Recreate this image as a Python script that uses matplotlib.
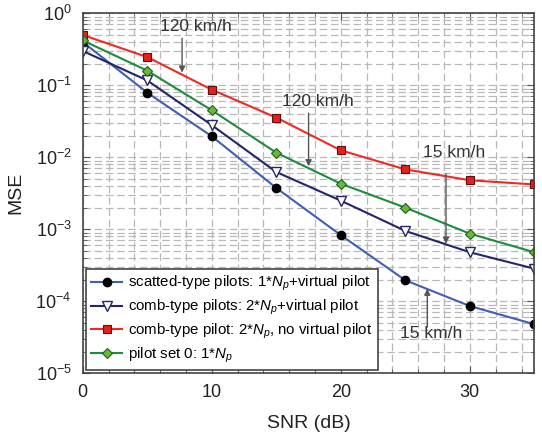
import numpy as np
import matplotlib
matplotlib.use("Agg")
import matplotlib.pyplot as plt
from matplotlib.ticker import LogLocator, MultipleLocator, NullFormatter

plt.rcParams['font.family'] = ['Liberation Sans', 'DejaVu Sans']
plt.rcParams['mathtext.fontset'] = 'custom'
plt.rcParams['mathtext.rm'] = 'Liberation Sans'
plt.rcParams['mathtext.it'] = 'Liberation Sans:italic'

snr = [0, 5, 10, 15, 20, 25, 30, 35]

mse_scatted = [0.40, 0.079, 0.0196, 0.00375, 0.00083, 0.000196, 8.6e-5, 4.8e-5]
mse_comb_vp = [0.30, 0.117, 0.028, 0.00625, 0.0025, 0.00095, 0.00048, 0.000284]
mse_comb_novp = [0.50, 0.247, 0.087, 0.0356, 0.0125, 0.0068, 0.0048, 0.0042]
mse_set0 = [0.42, 0.16, 0.045, 0.0116, 0.0043, 0.0020, 0.00087, 0.00048]

labels = [r'scatted-type pilots: 1*$N_p$+virtual pilot',
          r'comb-type pilots: 2*$N_p$+virtual pilot',
          r'comb-type pilot: 2*$N_p$, no virtual pilot',
          r'pilot set 0: 1*$N_p$']

# (text x, text y, arrow x, arrow start y, arrow end y)
notes = [
    ('120 km/h', 8.8, 0.66, 7.7, 0.45, 0.15),
    ('120 km/h', 18.2, 0.059, 17.5, 0.041, 0.0075),
    ('15 km/h', 28.75, 0.0116, 28.15, 0.0059, 0.00063),
    ('15 km/h', 27.0, 3.6e-5, 26.7, 4.4e-5, 1.5e-4),
]

fig = plt.figure(figsize=(5.42, 4.37), dpi=100)
ax = fig.add_axes([0.1526, 0.1457, 0.8334, 0.8238])

ax.plot(snr, mse_scatted, '-o', color='#3d5fb4', lw=1.5, ms=6,
        mfc='black', mec='black', label=labels[0])
ax.plot(snr, mse_comb_vp, '-v', color='#25256e', lw=1.5, ms=6.5,
        mfc='white', mec='#25256e', label=labels[1])
ax.plot(snr, mse_comb_novp, '-s', color='#ee2a24', lw=1.5, ms=5.5,
        mfc='#e8201c', mec='#5a1010', mew=0.8, label=labels[2])
ax.plot(snr, mse_set0, '-D', color='#1f8b3b', lw=1.5, ms=5.5,
        mfc='#63bb3a', mec='#2a5a20', mew=0.8, label=labels[3])

for txt, tx, ty, axx, y0, y1 in notes:
    ax.annotate('', xy=(axx, y1), xytext=(axx, y0),
                arrowprops=dict(arrowstyle='-|>', color='#555555', lw=1.0,
                                mutation_scale=9, shrinkA=0, shrinkB=0))
    ax.text(tx, ty, txt, ha='center', va='center', fontsize=12.5, color='#333333')

ax.set_yscale('log')
ax.set_xlim(0, 35)
ax.set_ylim(1e-5, 1)
ax.xaxis.set_major_locator(MultipleLocator(10))
ax.xaxis.set_minor_locator(MultipleLocator(2))
ax.yaxis.set_major_locator(LogLocator(base=10, numticks=10))
ax.yaxis.set_minor_locator(LogLocator(base=10, subs=np.arange(2, 10), numticks=20))
ax.yaxis.set_minor_formatter(NullFormatter())

ax.grid(True, which='both', ls=(0, (6, 3)), color='#b8b8b8', lw=0.9)
ax.set_axisbelow(True)
ax.tick_params(which='both', direction='in', top=True, right=True,
               colors='#555555', labelcolor='#222222', labelsize=13, pad=8)
ax.tick_params(which='major', length=5)
ax.tick_params(which='minor', length=3)
for s in ax.spines.values():
    s.set_color('#444444')
    s.set_linewidth(1.2)

ax.set_xlabel('SNR (dB)', fontsize=14, color='#222222', labelpad=10)
ax.set_ylabel('MSE', fontsize=14, color='#222222', labelpad=8)

leg = ax.legend(loc='lower left', bbox_to_anchor=(0.0066, 0.009), fontsize=10.8,
                frameon=True, fancybox=False, edgecolor='#444444',
                handlelength=2.1, handletextpad=0.4, borderaxespad=0,
                labelspacing=0.3, borderpad=0.35)
leg.get_frame().set_linewidth(1.2)
leg.get_frame().set_alpha(1)

fig.savefig('out.png', dpi=100)
